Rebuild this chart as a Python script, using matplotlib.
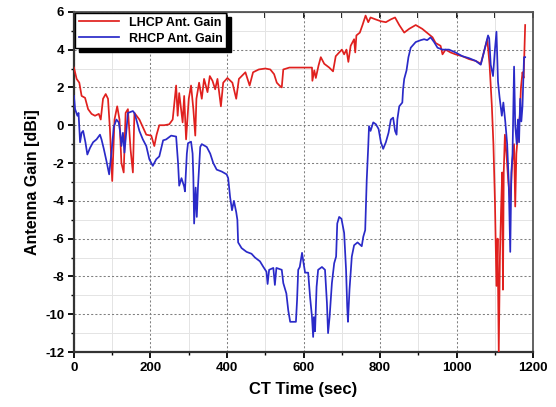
import matplotlib
matplotlib.use("Agg")
import matplotlib.pyplot as plt
from matplotlib.ticker import MultipleLocator

plt.rcParams["font.family"] = ["Liberation Sans", "DejaVu Sans"]
plt.rcParams["axes.unicode_minus"] = False

# LHCP antenna gain (red)
lhcp_t = [0, 7, 14, 20, 29, 37, 46, 55, 65, 70, 76, 83, 89, 94, 100, 106, 113, 119, 124, 130,
          135, 141, 148, 154, 158, 171, 189, 202, 210, 216, 223, 236, 249, 258, 267, 271, 275,
          280, 284, 288, 293, 300, 306, 312, 317, 320, 327, 334, 340, 349, 355, 362, 369, 375,
          384, 390, 401, 414, 424, 431, 448, 459, 468, 483, 500, 513, 523, 530, 537, 543, 547,
          563, 597, 622, 623, 628, 632, 639, 645, 654, 667, 677, 684, 693, 700, 706, 712, 717,
          723, 732, 735, 738, 747, 754, 762, 769, 775, 788, 802, 815, 828, 839, 850, 863, 876,
          893, 910, 928, 937, 945, 958, 963, 971, 984, 997, 1015, 1032, 1050, 1063, 1071, 1080,
          1086, 1092, 1096, 1100, 1104, 1107, 1110, 1113, 1116, 1119, 1121, 1123, 1126, 1130,
          1135, 1140, 1145, 1150, 1153, 1156, 1160, 1165, 1168, 1172, 1175, 1177, 1179]
lhcp_gain = [3.05, 2.45, 2.25, 1.55, 1.45, 0.85, 0.6, 0.5, 0.6, 0.3, 1.4, 1.65, 1.4, -0.2, -2.95,
             0.3, 1.0, 0.3, -2.0, -2.5, 0.65, 0.85, -1.3, -2.5, 0.65, 0.3, -0.5, -0.55, -1.1,
             -0.5, 0.0, 0.0, 0.05, 0.3, 2.1, 0.5, 1.7, 0.85, 0.15, 1.55, -0.75, 1.4, 2.1, 0.85,
             -0.55, 1.4, 2.25, 1.4, 2.45, 1.75, 2.6, 2.35, 1.9, 2.45, 1.0, 2.25, 2.5, 2.25, 1.4,
             2.45, 2.8, 2.1, 2.8, 2.95, 3.0, 2.95, 2.7, 2.25, 2.1, 2.0, 2.95, 3.05, 3.05, 3.05,
             2.35, 2.9, 2.5, 3.15, 3.6, 3.25, 3.05, 2.85, 3.65, 3.85, 4.0, 3.75, 4.0, 3.35, 4.2,
             4.55, 3.85, 4.75, 4.9, 5.3, 5.8, 5.45, 5.7, 5.6, 5.5, 5.45, 5.6, 5.7, 5.3, 4.9, 5.1,
             5.3, 5.1, 4.8, 4.65, 4.35, 4.2, 3.75, 4.0, 3.85, 3.75, 3.65, 3.5, 3.4, 3.25, 3.85,
             4.55, 3.2, 1.0, -1.0, -4.0, -8.5, -6.0, -12.0, -7.0, -4.5, -2.5, -8.7, -2.5, -0.5,
             -1.5, -3.0, -4.0, -2.0, -1.0, -4.3, -1.5, -0.5, 0.5, 2.0, 2.8, 2.5, 4.0, 5.3]

# RHCP antenna gain (blue)
rhcp_t = [0, 3, 9, 12, 16, 20, 24, 30, 35, 42, 50, 59, 68, 72, 78, 85, 92, 98, 104, 111, 117,
          121, 124, 128, 132, 137, 141, 154, 158, 163, 171, 180, 189, 197, 206, 215, 223, 233,
          241, 254, 267, 272, 275, 281, 288, 290, 295, 298, 306, 310, 312, 314, 318, 321, 324,
          330, 334, 347, 356, 364, 373, 386, 399, 403, 408, 413, 418, 424, 427, 429, 438, 451,
          464, 473, 486, 495, 503, 506, 510, 521, 525, 529, 543, 547, 555, 560, 565, 580, 583,
          586, 590, 596, 600, 604, 612, 617, 622, 625, 627, 630, 634, 638, 648, 656, 661, 664,
          668, 674, 680, 685, 688, 693, 699, 706, 711, 714, 716, 720, 726, 732, 741, 752, 756,
          761, 765, 769, 771, 775, 782, 789, 796, 802, 808, 815, 822, 828, 834, 839, 843, 845,
          850, 858, 860, 863, 869, 874, 880, 893, 906, 915, 923, 932, 941, 950, 963, 980, 997,
          1015, 1032, 1050, 1063, 1071, 1082, 1085, 1089, 1095, 1100, 1104, 1108, 1112, 1118,
          1122, 1127, 1132, 1136, 1140, 1143, 1146, 1150, 1153, 1157, 1160, 1163, 1166, 1169,
          1172, 1176, 1179]
rhcp_gain = [1.55, 0.85, 0.5, 0.65, -0.9, -0.4, -0.3, -0.9, -1.55, -1.2, -0.9, -0.75, -0.5,
             -0.75, -1.25, -1.9, -2.6, -1.45, -0.1, 0.3, 0.15, -0.4, -1.1, -0.4, -1.45, -0.3,
             0.65, 0.75, 0.65, 0.3, -0.3, -0.75, -1.1, -1.8, -2.15, -1.8, -1.65, -0.8, -0.75,
             -0.55, -0.6, -2.0, -3.2, -2.8, -3.25, -3.5, -1.5, -0.95, -0.87, -1.5, -2.75, -5.2,
             -3.3, -4.85, -3.3, -1.15, -1.0, -1.15, -1.5, -2.0, -2.35, -2.45, -2.6, -2.8, -3.8,
             -4.5, -4.0, -4.6, -5.0, -6.2, -6.5, -6.7, -6.8, -7.0, -7.2, -7.5, -7.75, -8.4,
             -7.65, -7.55, -8.45, -7.55, -7.65, -8.35, -8.9, -9.8, -10.4, -10.4, -9.25, -7.65,
             -7.5, -6.75, -7.3, -7.8, -7.8, -9.1, -10.15, -11.2, -10.15, -10.9, -8.55, -7.65,
             -7.5, -7.65, -9.4, -11.0, -10.15, -8.35, -7.3, -6.95, -5.2, -4.85, -4.95, -5.7,
             -7.65, -9.6, -10.4, -8.7, -6.95, -6.35, -6.2, -6.4, -5.9, -5.55, -2.9, -1.1, -0.05,
             -0.3, 0.15, 0.05, -0.2, -0.9, -1.25, -0.9, -0.4, 0.3, 0.4, -0.3, -0.5, 0.3, 1.0,
             1.2, 1.9, 2.45, 2.9, 3.6, 4.1, 4.4, 4.5, 4.55, 4.5, 4.65, 4.4, 4.1, 4.0, 4.0, 3.85,
             3.65, 3.55, 3.4, 3.2, 3.85, 4.75, 4.6, 3.2, 2.6, 4.0, 4.95, 2.3, 1.5, 0.5, 1.2, 0.2,
             -1.0, -3.0, -6.7, -2.5, -1.5, 3.1, 0.0, -1.0, 0.3, -0.9, 1.4, 0.2, 1.0, 3.6, 3.6]

fig = plt.figure(figsize=(5.56, 4.07), dpi=100)
ax = fig.add_axes([0.133, 0.135, 0.826, 0.836])

ax.plot(lhcp_t, lhcp_gain, color="#e0201e", lw=1.25, label="LHCP Ant. Gain", zorder=3)
ax.plot(rhcp_t, rhcp_gain, color="#2a2ac8", lw=1.25, label="RHCP Ant. Gain", zorder=3)

ax.set_xlim(0, 1200)
ax.set_ylim(-12, 6)
ax.xaxis.set_major_locator(MultipleLocator(200))
ax.xaxis.set_minor_locator(MultipleLocator(100))
ax.yaxis.set_major_locator(MultipleLocator(2))
ax.yaxis.set_minor_locator(MultipleLocator(1))

ax.grid(which="major", ls=(0, (2, 2)), color="#808080", lw=0.75)
ax.grid(which="minor", ls="-", color="#e4e4e4", lw=0.7)
ax.set_axisbelow(True)

ax.tick_params(which="major", direction="out", length=4, width=1.3, labelsize=9.5, pad=3)
ax.tick_params(which="minor", direction="out", length=2.5, width=1.0)
for lab in ax.get_xticklabels() + ax.get_yticklabels():
    lab.set_fontweight("bold")

top = ax.secondary_xaxis("top")
top.xaxis.set_major_locator(MultipleLocator(200))
top.xaxis.set_minor_locator(MultipleLocator(100))
top.tick_params(which="both", direction="in", length=4, width=1.2, labeltop=False)
top.spines["top"].set_color("#555555")

for side in ["left", "bottom"]:
    ax.spines[side].set_linewidth(1.6)
    ax.spines[side].set_color("#333333")
for side in ["top", "right"]:
    ax.spines[side].set_linewidth(1.3)
    ax.spines[side].set_color("#555555")

ax.set_xlabel("CT Time (sec)", fontsize=12, fontweight="bold", labelpad=6)
ax.set_ylabel("Antenna Gain [dBi]", fontsize=11.5, fontweight="bold", labelpad=4)

leg = ax.legend(loc="upper left", fancybox=False, framealpha=1,
                shadow={"color": "black", "alpha": 1, "ox": 3, "oy": -3},
                edgecolor="black", handlelength=3.2, borderaxespad=0.1,
                prop={"weight": "bold", "size": 9}, borderpad=0.3, labelspacing=0.3)
leg.get_frame().set_linewidth(1.0)

fig.savefig("out.png", dpi=100)
